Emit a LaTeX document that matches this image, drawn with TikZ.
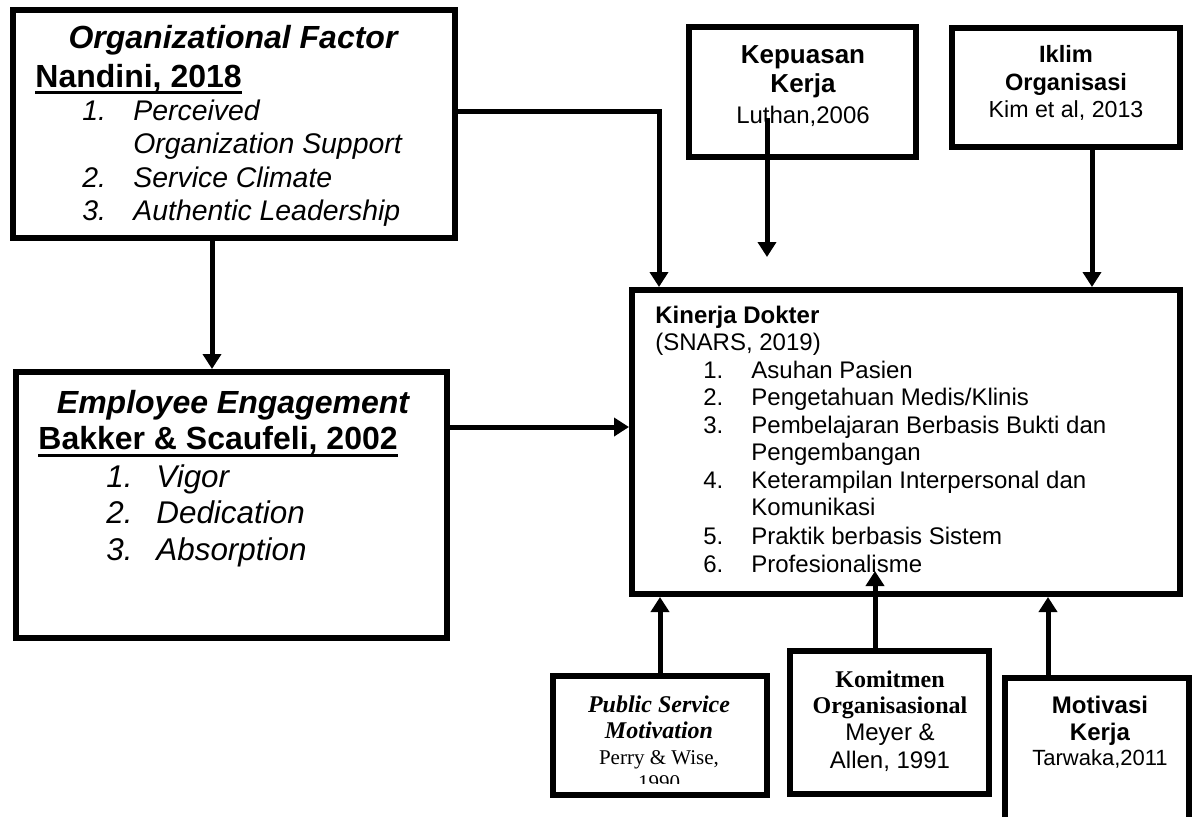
\documentclass[tikz,border=0pt]{standalone}
\usepackage{fontspec}
\setmainfont{Liberation Sans}
\newfontfamily\serifface{Liberation Serif}
\usetikzlibrary{arrows.meta,fit}
\begin{document}
\begin{tikzpicture}[x=0.5pt,y=-0.5pt,
  framebox/.style={draw,line width=3pt,inner sep=0pt},
  lt/.style={inner sep=0pt,anchor=base west},
  ct/.style={inner sep=0pt,anchor=base},
  arr/.style={line width=2.5pt,-{Triangle[width=9pt,length=7.5pt]}},
  ul/.style={line width=1.6pt},
  headBI/.style={font=\fontsize{16}{18}\selectfont\bfseries\itshape},
  headB/.style={font=\fontsize{16}{18}\selectfont\bfseries},
  itemI/.style={font=\fontsize{14.2}{16}\selectfont\itshape},
  itemEE/.style={font=\fontsize{15.7}{18}\selectfont\itshape},
  smB/.style={font=\fontsize{12}{14}\selectfont\bfseries},
  sm/.style={font=\fontsize{12}{14}\selectfont},
  serB/.style={font=\fontsize{12}{14}\selectfont\serifface\bfseries},
  serBI/.style={font=\fontsize{12}{14}\selectfont\serifface\bfseries\itshape},
  ser/.style={font=\fontsize{10.5}{12}\selectfont\serifface},
]
\clip (0,0) rectangle (1196,816);
\fill[white] (0,0) rectangle (1196,816);

% ---- boxes ----
\node[framebox, fit={(13,10) (455,238)}] (org) {};
\node[framebox, fit={(16,372) (447,638)}] (ee) {};
\node[framebox, fit={(689,27) (916,157)}] (kep) {};
\node[framebox, fit={(952,28) (1180,147)}] (iklim) {};
\node[framebox, fit={(632,290) (1180,594)}] (kin) {};
\node[framebox, fit={(553,676) (767,795)}] (psm) {};
\node[framebox, fit={(790,651) (989,794)}] (kom) {};
\node[framebox, fit={(1005,678) (1189,850)}] (mot) {};

% ---- Organizational Factor ----
\node[ct,headBI] (orgT) at (233,48) {Organizational Factor};
\node[lt,headB] (orgR) at (35,87) {Nandini, 2018};
\draw[ul] ([yshift=-2.9pt]orgR.base west) -- ([yshift=-2.9pt]orgR.base east);
\node[lt,itemI] (o1n) at (82,120) {1.};
\node[lt,itemI] (o1a) at (133,120) {Perceived};
\node[lt,itemI] (o1b) at (133,153) {Organization Support};
\node[lt,itemI] (o2n) at (82,187) {2.};
\node[lt,itemI] (o2) at (133,187) {Service Climate};
\node[lt,itemI] (o3n) at (82,220) {3.};
\node[lt,itemI] (o3) at (133,220) {Authentic Leadership};

% ---- Employee Engagement ----
\node[ct,headBI] (eeT) at (233,413) {Employee Engagement};
\node[lt,headB] (eeR) at (38,449) {Bakker \& Scaufeli, 2002};
\draw[ul] ([yshift=-3.3pt]eeR.base west) -- ([yshift=-3.3pt]eeR.base east);
\node[lt,itemEE] (e1n) at (106,487) {1.};
\node[lt,itemEE] (e1) at (156,487) {Vigor};
\node[lt,itemEE] (e2n) at (106,523) {2.};
\node[lt,itemEE] (e2) at (156,523) {Dedication};
\node[lt,itemEE] (e3n) at (106,560) {3.};
\node[lt,itemEE] (e3) at (156,560) {Absorption};

% ---- Kepuasan Kerja ----
\node[ct,font=\fontsize{13}{15}\selectfont\bfseries] (kep1) at (803,63) {Kepuasan};
\node[ct,font=\fontsize{13}{15}\selectfont\bfseries] (kep2) at (803,92) {Kerja};
\node[ct,sm] (kep3) at (803,123) {Luthan,2006};

% ---- Iklim Organisasi ----
\node[ct,font=\fontsize{11.8}{14}\selectfont\bfseries] (ik1) at (1066,62) {Iklim};
\node[ct,font=\fontsize{11.8}{14}\selectfont\bfseries] (ik2) at (1066,90) {Organisasi};
\node[ct,font=\fontsize{11.6}{14}\selectfont] (ik3) at (1066,117) {Kim et al, 2013};

% ---- Kinerja Dokter ----
\node[lt,smB] (kinT) at (655,323) {Kinerja Dokter};
\node[lt,sm] (kinR) at (655,350) {(SNARS, 2019)};
\node[lt,sm] (k1n) at (703,378) {1.};
\node[lt,sm] (k1) at (751,378) {Asuhan Pasien};
\node[lt,sm] (k2n) at (703,405) {2.};
\node[lt,sm] (k2) at (751,405) {Pengetahuan Medis/Klinis};
\node[lt,sm] (k3n) at (703,433) {3.};
\node[lt,sm] (k3) at (751,433) {Pembelajaran Berbasis Bukti dan};
\node[lt,sm] (k3b) at (751,460) {Pengembangan};
\node[lt,sm] (k4n) at (703,488) {4.};
\node[lt,sm] (k4) at (751,488) {Keterampilan Interpersonal dan};
\node[lt,sm] (k4b) at (751,515) {Komunikasi};
\node[lt,sm] (k5n) at (703,544) {5.};
\node[lt,sm] (k5) at (751,544) {Praktik berbasis Sistem};
\node[lt,sm] (k6n) at (703,572) {6.};
\node[lt,sm] (k6) at (751,572) {Profesionalisme};

% ---- Public Service Motivation (last line cut by the text area) ----
\node[ct,serBI] (psm1) at (659,712) {Public Service};
\node[ct,serBI] (psm2) at (659,738) {Motivation};
\node[ct,ser] (psm3) at (659,764) {Perry \& Wise,};
\begin{scope}
  \clip (560,700) rectangle (760,783);
  \node[ct,ser] (psm4) at (659,789) {1990};
\end{scope}

% ---- Komitmen Organisasional ----
\node[ct,serB] (kom1) at (890,687) {Komitmen};
\node[ct,serB] (kom2) at (890,713) {Organisasional};
\node[ct,sm] (kom3) at (890,740) {Meyer \&};
\node[ct,sm] (kom4) at (890,768) {Allen, 1991};

% ---- Motivasi Kerja ----
\node[ct,smB] (mot1) at (1100,713) {Motivasi};
\node[ct,smB] (mot2) at (1100,740) {Kerja};
\node[ct,font=\fontsize{11}{13}\selectfont] (mot3) at (1100,765) {Tarwaka,2011};

% ---- connectors ----
\coordinate (xOE) at (212,0);
\draw[arr] (xOE |- org.south) -- (xOE |- ee.north);

\coordinate (bend) at (659,111);
\draw[arr] (org.east |- bend) -- (bend) -- (bend |- kin.north);

\coordinate (yEK) at (0,427);
\draw[arr] (ee.east |- yEK) -- (kin.west |- yEK);

\coordinate (kepStart) at (767,118);
\coordinate (kepEnd) at (767,257);
\draw[arr] (kepStart) -- (kepEnd);

\coordinate (xIK) at (1092,0);
\draw[arr] (xIK |- iklim.south) -- (xIK |- kin.north);

\coordinate (xPK) at (660,0);
\draw[arr] (xPK |- psm.north) -- (xPK |- kin.south);

\coordinate (komEnd) at (875,571);
\draw[arr] (komEnd |- kom.north) -- (komEnd);

\coordinate (xMK) at (1048,0);
\draw[arr] (xMK |- mot.north) -- (xMK |- kin.south);
\end{tikzpicture}
\end{document}
